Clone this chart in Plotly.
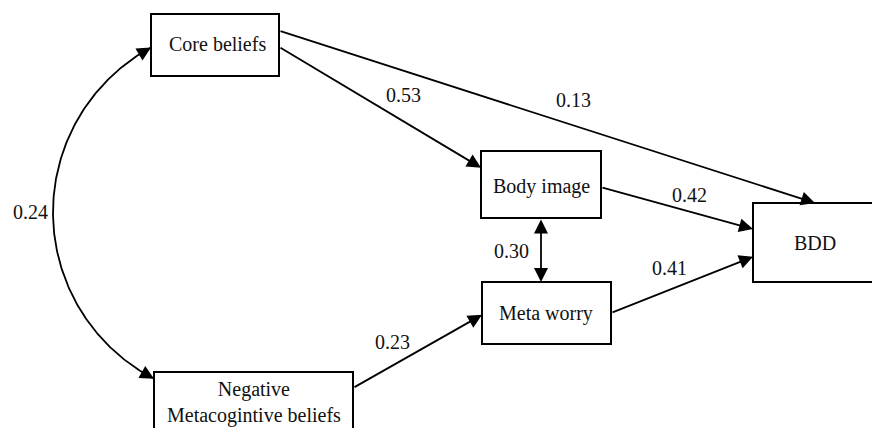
import math
import plotly.graph_objects as go

# ---- data ----
node_names = ["Core beliefs", "Negative<br>Metacogintive beliefs", "Body image", "Meta worry", "BDD"]
edge_from = ["Core beliefs", "Core beliefs", "Body image", "Meta worry", "Negative<br>Metacogintive beliefs"]
edge_to = ["Body image", "BDD", "BDD", "BDD", "Meta worry"]
edge_coef = ["0.53", "0.13", "0.42", "0.41", "0.23"]
cov_pairs = [("Body image", "Meta worry"), ("Core beliefs", "Negative<br>Metacogintive beliefs")]
cov_coef = ["0.30", "0.24"]

# ---- layout (box geometry in pixel units) ----
W, H = 872, 428
boxes = {
    "Core beliefs": (151, 14, 279, 76),
    "Negative<br>Metacogintive beliefs": (154, 372, 353, 440),
    "Body image": (481, 151, 601, 218),
    "Meta worry": (482, 282, 611, 344),
    "BDD": (753, 203, 877, 282),
}
text_pos = {
    "Core beliefs": (217, 44),
    "Negative<br>Metacogintive beliefs": (253.5, 402),
    "Body image": (541, 186),
    "Meta worry": (546, 313),
    "BDD": (815, 243),
}
# anchors: (side, fraction along side)
edge_anchors = [
    (("right", 0.53), ("left", 0.25)),
    (("right", 0.27), ("top", 0.5)),
    (("right", 0.54), ("left", 0.33)),
    (("right", 0.50), ("left", 0.68)),
    (("right", 0.235), ("left", 0.53)),
]
edge_label_off = [(23, -12.5), (26, -17), (12, -13), (-13, -17), (-25.5, -9.5)]
cov_anchors = [(("bottom", 0.5), ("top", 0.46)), (("left", 0.54), ("left", 0.10))]
cov_label_off = [(-30, 1), (-23, 0)]
arc_left_x = 53

LINE_W = 1.8
HEAD = 1.55
FONT = dict(family="Liberation Serif", size=20, color="#111111")


def anchor(name, side, frac):
    x0, y0, x1, y1 = boxes[name]
    if side == "left":
        return x0, y0 + frac * (y1 - y0)
    if side == "right":
        return x1, y0 + frac * (y1 - y0)
    if side == "top":
        return x0 + frac * (x1 - x0), y0
    return x0 + frac * (x1 - x0), y1


fig = go.Figure()
shapes = []
annotations = []

for n in node_names:
    x0, y0, x1, y1 = boxes[n]
    shapes.append(dict(type="rect", xref="x", yref="y", x0=x0, y0=y0, x1=x1, y1=y1,
                       line=dict(color="black", width=2), fillcolor="white", layer="above"))
    tx, ty = text_pos[n]
    annotations.append(dict(x=tx, y=ty, xref="x", yref="y", text=n, showarrow=False,
                            font=FONT, xanchor="center", yanchor="middle"))

def arrow(tip, tail, both=False):
    d = dict(x=tip[0], y=tip[1], ax=tail[0], ay=tail[1], xref="x", yref="y",
             axref="x", ayref="y", text="", showarrow=True, arrowhead=2,
             arrowsize=HEAD, arrowwidth=LINE_W, arrowcolor="black", standoff=0)
    if both:
        d.update(arrowside="end+start", startarrowhead=2, startarrowsize=HEAD, startstandoff=0)
    return d

for f, t, c, (a1, a2), off in zip(edge_from, edge_to, edge_coef, edge_anchors, edge_label_off):
    p1 = anchor(f, *a1)
    p2 = anchor(t, *a2)
    annotations.append(arrow(p2, p1))
    mx, my = (p1[0] + p2[0]) / 2, (p1[1] + p2[1]) / 2
    annotations.append(dict(x=mx + off[0], y=my + off[1], xref="x", yref="y", text=c,
                            showarrow=False, font=FONT, xanchor="center", yanchor="middle"))

# covariance between Body image and Meta worry (straight double arrow)
(a1, a2) = cov_anchors[0]
p1 = anchor(cov_pairs[0][0], *a1)
p2 = anchor(cov_pairs[0][1], *a2)
p2 = (p1[0], p2[1])
annotations.append(arrow(p2, p1, both=True))
mx, my = (p1[0] + p2[0]) / 2, (p1[1] + p2[1]) / 2
annotations.append(dict(x=mx + cov_label_off[0][0], y=my + cov_label_off[0][1], xref="x", yref="y",
                        text=cov_coef[0], showarrow=False, font=FONT))

# covariance between Core beliefs and Negative (circular arc)
(a1, a2) = cov_anchors[1]
S = anchor(cov_pairs[1][0], *a1)
E = anchor(cov_pairs[1][1], *a2)
Mx, My = (S[0] + E[0]) / 2, (S[1] + E[1]) / 2
c = math.hypot(E[0] - S[0], E[1] - S[1])
s = Mx - arc_left_x
r = (c / 2) ** 2 / (2 * s) + s / 2
nx, ny = (E[1] - S[1]) / c, -(E[0] - S[0]) / c
if nx < 0:
    nx, ny = -nx, -ny
cx, cy = Mx + nx * (r - s), My + ny * (r - s)
th1 = math.atan2(S[1] - cy, S[0] - cx)
th2 = math.atan2(E[1] - cy, E[0] - cx)
if th1 < 0:
    th1 += 2 * math.pi
if th2 < 0:
    th2 += 2 * math.pi
N = 200
xs = [cx + r * math.cos(th1 + (th2 - th1) * i / N) for i in range(N + 1)]
ys = [cy + r * math.sin(th1 + (th2 - th1) * i / N) for i in range(N + 1)]
fig.add_trace(go.Scatter(x=xs, y=ys, mode="lines", line=dict(color="black", width=LINE_W),
                         hoverinfo="skip", showlegend=False))
annotations.append(arrow((xs[0], ys[0]), (xs[6], ys[6])))
annotations.append(arrow((xs[-1], ys[-1]), (xs[-7], ys[-7])))
annotations.append(dict(x=arc_left_x + cov_label_off[1][0], y=cy + cov_label_off[1][1], xref="x", yref="y",
                        text=cov_coef[1], showarrow=False, font=FONT))

fig.update_layout(
    width=W, height=H, margin=dict(l=0, r=0, t=0, b=0),
    paper_bgcolor="white", plot_bgcolor="white",
    font=FONT,
    xaxis=dict(range=[0, W], visible=False, fixedrange=True),
    yaxis=dict(range=[H, 0], visible=False, fixedrange=True),
    shapes=shapes, annotations=annotations, showlegend=False,
)
fig.write_html("out.html", config={"displayModeBar": False},
               post_script="document.body.style.margin='0';document.body.style.overflow='hidden';")
